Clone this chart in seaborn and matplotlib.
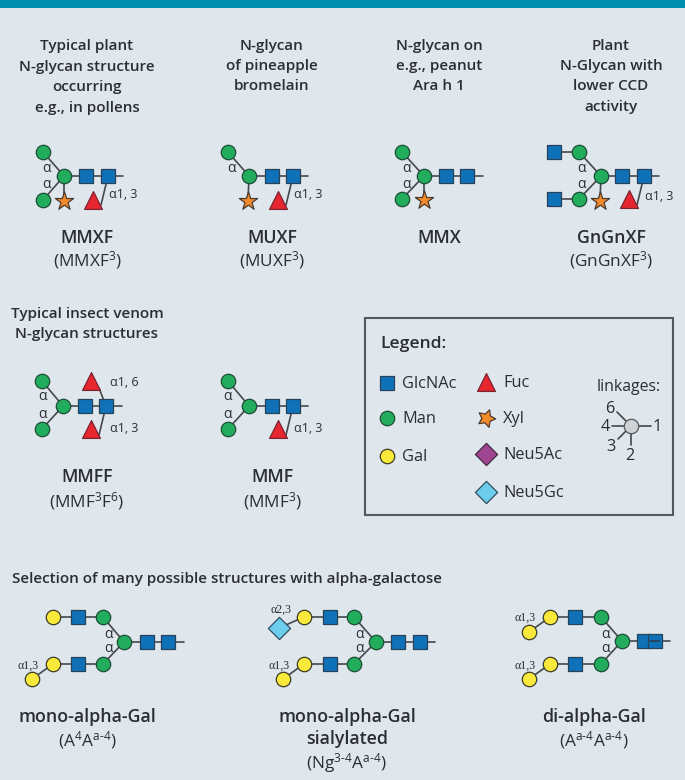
import pandas as pd
import matplotlib.pyplot as plt
import matplotlib.patches as mpatches
import seaborn as sns

# residues (x, y in picture pixels)
GLCNAC_X = [86, 108, 272, 293, 446, 467, 622, 644, 554, 554, 85, 106, 272, 293,
            78, 78, 147, 168, 330, 330, 398, 420, 575, 575, 644, 655, 387]
GLCNAC_Y = [176, 176, 176, 176, 176, 176, 176, 176, 152, 199, 406, 406, 406, 406,
            617, 664, 642, 642, 617, 664, 642, 642, 617, 664, 641, 641, 383]
MAN_X = [43, 43, 64, 228, 249, 402, 402, 424, 579, 579, 601, 42, 42, 63, 228, 228, 249,
         103, 103, 124, 354, 354, 376, 601, 601, 622, 387]
MAN_Y = [152, 200, 176, 152, 176, 152, 199, 176, 152, 199, 176, 381, 429, 406, 381, 429, 406,
         617, 664, 642, 617, 664, 642, 617, 664, 641, 418]
GAL_X = [53, 53, 32, 304, 304, 283, 550, 550, 529, 529, 387]
GAL_Y = [617, 664, 679, 617, 664, 679, 617, 664, 632, 679, 456]
FUC_X = [93, 278, 629, 91, 91, 278, 486]
FUC_Y = [200, 200, 199, 381, 429, 429, 382]
XYL_X = [64, 248, 424, 600]
XYL_Y = [201, 201, 200, 201]
XYL_LEGEND_X = [486]
XYL_LEGEND_Y = [418]
NEU5AC_X = [486]
NEU5AC_Y = [454]
NEU5GC_X = [486, 279]
NEU5GC_Y = [492, 628]
HUB_X = [631]
HUB_Y = [426]

# bonds as x0, y0, x1, y1
BONDS = [
    (43, 152, 64, 176), (43, 200, 64, 176), (64, 176, 123, 176), (64, 176, 64, 201), (101, 205, 108, 176),
    (228, 152, 249, 176), (249, 176, 308, 176), (249, 176, 248, 201), (286, 205, 293, 176),
    (402, 152, 424, 176), (402, 199, 424, 176), (424, 176, 483, 176), (424, 176, 424, 200),
    (554, 152, 579, 152), (554, 199, 579, 199), (579, 152, 601, 176), (579, 199, 601, 176),
    (601, 176, 659, 176), (601, 176, 600, 201), (637, 205, 644, 176),
    (42, 381, 63, 406), (42, 429, 63, 406), (63, 406, 122, 406), (99, 388, 106, 406), (99, 435, 106, 406),
    (228, 381, 249, 406), (228, 429, 249, 406), (249, 406, 308, 406), (286, 435, 293, 406),
    (53, 617, 103, 617), (53, 664, 103, 664), (103, 617, 124, 642), (103, 664, 124, 642),
    (124, 642, 184, 642), (53, 664, 32, 679),
    (304, 617, 354, 617), (304, 664, 354, 664), (354, 617, 376, 642), (354, 664, 376, 642),
    (376, 642, 435, 642), (304, 664, 283, 679), (304, 617, 279, 628),
    (550, 617, 601, 617), (550, 664, 601, 664), (601, 617, 622, 641), (601, 664, 622, 641),
    (622, 641, 670, 641), (550, 617, 529, 632), (550, 664, 529, 679),
    (631, 426, 651, 426), (631, 426, 612, 426), (631, 426, 617, 412), (631, 426, 618, 439), (631, 426, 631, 445),
]

HEADERS = [
    (87, 45, 'Typical plant'), (87, 66, 'N-glycan structure'), (87, 86, 'occurring'), (87, 107, 'e.g., in pollens'),
    (272, 45, 'N-glycan'), (272, 65, 'of pineapple'), (272, 85, 'bromelain'),
    (439, 45, 'N-glycan on'), (439, 65, 'e.g., peanut'), (439, 85, 'Ara h 1'),
    (611, 45, 'Plant'), (611, 65, 'N-Glycan with'), (611, 85, 'lower CCD'), (611, 106, 'activity'),
    (87, 313, 'Typical insect venom'), (87, 333, 'N-glycan structures'),
]
NAMES = [
    (87, 237, 'MMXF'), (272, 237, 'MUXF'), (439, 237, 'MMX'), (611, 237, 'GnGnXF'),
    (87, 476, 'MMFF'), (272, 476, 'MMF'),
    (87, 716, 'mono-alpha-Gal'), (347, 716, 'mono-alpha-Gal'), (347, 738, 'sialylated'), (594, 716, 'di-alpha-Gal'),
]
CODES = [
    (87, 259, '(MMXF$^{3}$)'), (272, 259, '(MUXF$^{3}$)'), (611, 259, '(GnGnXF$^{3}$)'),
    (87, 500, '(MMF$^{3}$F$^{6}$)'), (272, 500, '(MMF$^{3}$)'),
    (87, 739, r'(A$^{4}$A$^{\text{a-4}}$)'), (347, 762, r'(Ng$^{\text{3-4}}$A$^{\text{a-4}}$)'),
    (594, 739, r'(A$^{\text{a-4}}$A$^{\text{a-4}}$)'),
]
ALPHAS = [
    (47, 168), (47, 184), (232, 168), (407, 168), (407, 184), (582, 168), (582, 184),
    (43, 396), (43, 414), (228, 396), (228, 414),
    (109, 633), (109, 647), (360, 633), (360, 647), (606, 633), (606, 647),
]
LINKS = [
    (123, 194, 'α1, 3'), (308, 194, 'α1, 3'), (659, 196, 'α1, 3'),
    (124, 381, 'α1, 6'), (124, 428, 'α1, 3'), (308, 428, 'α1, 3'),
]
SERIF_LINKS = [
    (28, 665, 'α1,3'), (281, 609, 'α2,3'), (279, 665, 'α1,3'), (525, 617, 'α1,3'), (525, 665, 'α1,3'),
]
LEGEND_LABELS = [
    (402, 383, 'GlcNAc'), (402, 418, 'Man'), (402, 456, 'Gal'),
    (503, 382, 'Fuc'), (503, 418, 'Xyl'), (503, 454, 'Neu5Ac'), (503, 492, 'Neu5Gc'),
]
LINKAGE_NUMBERS = [
    (610, 408, '6'), (605, 426, '4'), (657, 426, '1'), (611, 446, '3'), (630, 455, '2'),
]

BG = '#dfe6ec'
INK = '#2b2e33'
LINE = '#45484c'

sns.set_theme(style='white')
plt.rcParams['font.family'] = ['Open Sans', 'DejaVu Sans']
plt.rcParams['mathtext.fontset'] = 'custom'
plt.rcParams['mathtext.rm'] = 'Open Sans'
plt.rcParams['mathtext.default'] = 'regular'

fig = plt.figure(figsize=(6.85, 7.8), dpi=100, facecolor=BG)
ax = fig.add_axes([0, 0, 1, 1])
ax.set_facecolor(BG)

rows = []
for i, (x0, y0, x1, y1) in enumerate(BONDS):
    rows.append({'bond': i, 'x': x0, 'y': y0})
    rows.append({'bond': i, 'x': x1, 'y': y1})
bonds = pd.DataFrame(rows)

sns.lineplot(data=bonds, x='x', y='y', units='bond', estimator=None, sort=False,
             color=LINE, linewidth=1.2, legend=False, ax=ax, zorder=1)


def residues(xs, ys, marker, size, color, edge):
    sns.scatterplot(x=xs, y=ys, marker=marker, s=size, color=color, edgecolor=edge,
                    linewidth=0.9, legend=False, ax=ax, zorder=3)


residues(GLCNAC_X, GLCNAC_Y, 's', 92, '#0f72b8', '#27435c')
residues(MAN_X, MAN_Y, 'o', 108, '#22ad5c', '#1d4d36')
residues(GAL_X, GAL_Y, 'o', 108, '#f9e93a', '#3c3c28')
residues(FUC_X, FUC_Y, '^', 165, '#e8262f', '#7c2332')
residues(XYL_X, XYL_Y, '*', 190, '#f58a2a', '#4a3a30')
residues(XYL_LEGEND_X, XYL_LEGEND_Y, (5, 1, -20), 175, '#f58a2a', '#4a3a30')
residues(NEU5AC_X, NEU5AC_Y, 'D', 128, '#a0458f', '#3f2f45')
residues(NEU5GC_X, NEU5GC_Y, 'D', 128, '#6ccdec', '#2f4f5f')
residues(HUB_X, HUB_Y, 'o', 108, '#cfd2d4', '#55585a')

# the dash on the last GlcNAc of di-alpha-Gal
ax.plot([650, 659], [641, 641], color='#27435c', linewidth=1.4, zorder=4)

ax.add_patch(mpatches.Rectangle((0, 0), 685, 8, facecolor='#0090ad', edgecolor='none', zorder=5))
ax.add_patch(mpatches.Rectangle((365, 318), 308, 197, facecolor='none', edgecolor='#55585c', linewidth=1.5, zorder=2))


def label(x, y, s, size, weight='normal', ha='center', **kw):
    ax.text(x, y + 1, s, fontsize=size, fontweight=weight, ha=ha, va='center', color=INK, **kw)


for x, y, s in HEADERS:
    label(x, y, s, 11, weight='semibold')
for x, y, s in NAMES:
    label(x, y, s, 12.8, weight='semibold')
for x, y, s in CODES:
    label(x, y, s, 12.4)
for x, y in ALPHAS:
    label(x, y, 'α', 10)
for x, y, s in LINKS:
    label(x, y, s, 9)
for x, y, s in SERIF_LINKS:
    label(x, y, s, 8.6, family='Liberation Serif')
for x, y, s in LEGEND_LABELS:
    label(x, y, s, 11.8, ha='left')
for x, y, s in LINKAGE_NUMBERS:
    label(x, y, s, 11.8)
label(380, 343, 'Legend:', 12.6, weight='semibold', ha='left')
label(629, 386, 'linkages:', 11.4)
label(12, 578, 'Selection of many possible structures with alpha-galactose', 11, weight='semibold', ha='left')

ax.set_xlim(0, 685)
ax.set_ylim(780, 0)
ax.set_axis_off()

fig.savefig('out.png', dpi=100, facecolor=BG)
